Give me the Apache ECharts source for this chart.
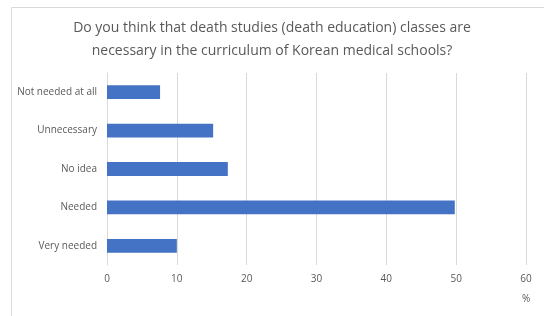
<!DOCTYPE html>
<html><head><meta charset="utf-8">
<script src="https://cdn.jsdelivr.net/npm/echarts@6/dist/echarts.min.js"></script>
<style>html,body{margin:0;padding:0;background:#fff}#c{width:544px;height:316px}</style>
</head><body><div id="c"></div>
<script>
var categories = ["Very needed", "Needed", "No idea", "Unnecessary", "Not needed at all"];
var values = [10.0, 49.8, 17.3, 15.2, 7.6];
var xTicks = [0, 10, 20, 30, 40, 50, 60];
var titleLines = ["Do you think that death studies (death education) classes are", "necessary in the curriculum of Korean medical schools?"];
var unitLabel = "%";

var chart = echarts.init(document.getElementById('c'), null, {renderer: 'canvas'});
var font = "'Open Sans', sans-serif";
chart.setOption({
  animation: false,
  graphic: [{
    type: 'rect', shape: {x: 11.5, y: 7.5, width: 560, height: 340},
    style: {fill: 'none', stroke: '#d9d9d9', lineWidth: 1}, z: -1
  }],
  title: {
    text: titleLines.join('\n'), left: 'center', top: 12,
    textStyle: {fontFamily: font, fontSize: 14, fontWeight: 'normal', color: '#595959', lineHeight: 23}
  },
  grid: {left: 107, right: 18, top: 73, bottom: 51, containLabel: false},
  xAxis: {
    type: 'value', min: xTicks[0], max: xTicks[xTicks.length - 1], interval: 10,
    name: unitLabel, nameLocation: 'end', nameGap: 0,
    nameTextStyle: {fontFamily: font, fontSize: 10, color: '#595959', padding: [29, 0, 0, -4], verticalAlign: 'top'},
    axisLine: {show: false}, axisTick: {show: false},
    axisLabel: {fontFamily: font, fontSize: 10, color: '#595959', margin: 9},
    splitLine: {lineStyle: {color: '#d9d9d9', width: 1}}
  },
  yAxis: {
    type: 'category', data: categories,
    axisLine: {show: true, lineStyle: {color: '#d9d9d9'}}, axisTick: {show: false},
    axisLabel: {fontFamily: font, fontSize: 10, color: '#595959', margin: 10}
  },
  series: [{
    type: 'bar', data: values, barWidth: '36%',
    itemStyle: {color: '#4472c4'}
  }]
});
</script></body></html>
